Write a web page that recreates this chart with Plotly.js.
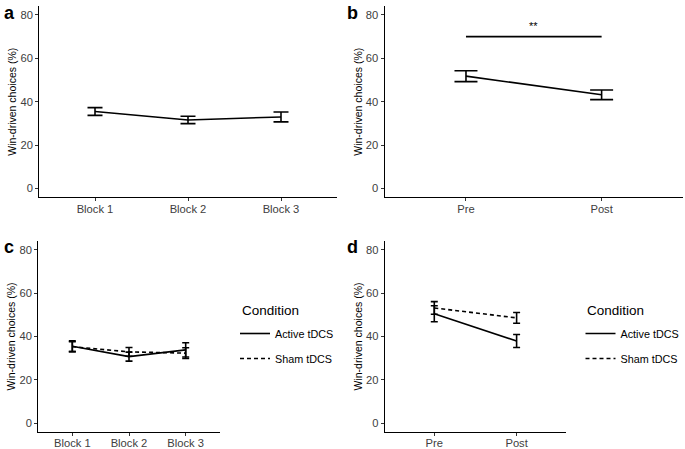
<!DOCTYPE html>
<html>
<head>
<meta charset="utf-8">
<script src="https://cdn.plot.ly/plotly-3.0.1.min.js"></script>
<style>html,body{margin:0;padding:0;background:#fff}#chart{width:685px;height:449px}</style>
</head>
<body>
<div id="chart"></div>
<script>
// ---- data ----
var blocks = ['Block 1', 'Block 2', 'Block 3'];
var sessions = ['Pre', 'Post'];

var aMean = [35.5, 31.6, 33.0];
var aSE   = [1.8, 1.7, 2.3];

var bMean = [51.8, 43.2];
var bSE   = [2.5, 2.2];

var conditions = ['Active tDCS', 'Sham tDCS'];
var cActiveMean = [35.5, 30.7, 33.8];
var cActiveSE   = [2.5, 2.1, 3.3];
var cShamMean   = [35.3, 32.9, 32.3];
var cShamSE     = [2.3, 2.0, 2.5];

var dActiveMean = [50.5, 37.9];
var dActiveSE   = [3.7, 3.0];
var dShamMean   = [53.2, 48.6];
var dShamSE     = [2.9, 2.5];

var sigLevel = 70;
var sigLabel = '**';
var sigLabelLevel = 75;

var yTitle = 'Win-driven choices (%)';
var yTicks = [0, 20, 40, 60, 80];
var panelLetters = ['a', 'b', 'c', 'd'];
var legendTitle = 'Condition';

// ---- style ----
var FONT = 'Liberation Sans, Arial, sans-serif';
var W = 685, H = 449;
function px(x) { return x / W; }
function py(y) { return 1 - y / H; }

function errBar(se, w) {
  return {type: 'data', array: se, visible: true, color: '#000', thickness: 1.6, width: w};
}

var traces = [
  {x: blocks, y: aMean, xaxis: 'x', yaxis: 'y', type: 'scatter', mode: 'lines',
   line: {color: '#000', width: 1.6}, error_y: errBar(aSE, 7.5), showlegend: false},
  {x: sessions, y: bMean, xaxis: 'x2', yaxis: 'y2', type: 'scatter', mode: 'lines',
   line: {color: '#000', width: 1.6}, error_y: errBar(bSE, 11.5), showlegend: false},
  {x: blocks, y: cActiveMean, name: conditions[0], xaxis: 'x3', yaxis: 'y3', type: 'scatter', mode: 'lines',
   line: {color: '#000', width: 1.6}, error_y: errBar(cActiveSE, 3.5), legend: 'legend', legendgroup: 'c1'},
  {x: blocks, y: cShamMean, name: conditions[1], xaxis: 'x3', yaxis: 'y3', type: 'scatter', mode: 'lines',
   line: {color: '#000', width: 1.6, dash: '4px,3px'}, error_y: errBar(cShamSE, 3.5), legend: 'legend', legendgroup: 'c2'},
  {x: sessions, y: dActiveMean, name: conditions[0], xaxis: 'x4', yaxis: 'y4', type: 'scatter', mode: 'lines',
   line: {color: '#000', width: 1.6}, error_y: errBar(dActiveSE, 3.5), legend: 'legend2', legendgroup: 'd1'},
  {x: sessions, y: dShamMean, name: conditions[1], xaxis: 'x4', yaxis: 'y4', type: 'scatter', mode: 'lines',
   line: {color: '#000', width: 1.6, dash: '4px,3px'}, error_y: errBar(dShamSE, 3.5), legend: 'legend2', legendgroup: 'd2'}
];

function xAxis(domain, n, anchor) {
  return {domain: domain, anchor: anchor, type: 'category', range: [-0.6, n - 0.4],
    showline: true, linecolor: '#000', linewidth: 1.1, ticks: 'outside', ticklen: 3,
    tickcolor: '#333', tickwidth: 1, showgrid: false, zeroline: false, fixedrange: true,
    ticklabelstandoff: -2,
    tickfont: {family: FONT, size: 11.2, color: '#404040'}};
}
function yAxis(domain, anchor) {
  return {domain: domain, anchor: anchor, range: [-4, 84], tickvals: yTicks,
    showline: true, linecolor: '#000', linewidth: 1.1, ticks: 'outside', ticklen: 3,
    tickcolor: '#333', tickwidth: 1, showgrid: false, zeroline: false, fixedrange: true,
    tickfont: {family: FONT, size: 11.2, color: '#404040'},
    title: {text: yTitle, font: {family: FONT, size: 10.5, color: '#000'}, standoff: 1}};
}

var topY = [py(197.2), py(6.3)];
var botY = [py(431.7), py(241.3)];

function makeLegend(x) {
  return {
    x: px(x), y: py(319), xanchor: 'left', yanchor: 'top',
    font: {family: FONT, size: 10.8, color: '#000'},
    bgcolor: 'rgba(0,0,0,0)', traceorder: 'grouped', tracegroupgap: 6, itemwidth: 30
  };
}
function legendTitleAnn(x) {
  return {xref: 'paper', yref: 'paper', x: px(x), y: py(310), xanchor: 'left', yanchor: 'middle',
    text: legendTitle, showarrow: false, font: {family: FONT, size: 13.5, color: '#000'}};
}

var layout = {
  width: W, height: H,
  margin: {l: 0, r: 0, t: 0, b: 0},
  paper_bgcolor: '#fff', plot_bgcolor: '#fff',
  font: {family: FONT},
  xaxis: xAxis([px(39.2), px(336.8)], 3, 'y'),
  yaxis: yAxis(topY, 'x'),
  xaxis2: xAxis([px(384.6), px(683)], 2, 'y2'),
  yaxis2: yAxis(topY, 'x2'),
  xaxis3: xAxis([px(38.3), px(219.7)], 3, 'y3'),
  yaxis3: yAxis(botY, 'x3'),
  xaxis4: xAxis([px(384.9), px(566)], 2, 'y4'),
  yaxis4: yAxis(botY, 'x4'),
  legend: makeLegend(235),
  legend2: makeLegend(580.5),
  shapes: [
    {type: 'line', xref: 'x2', yref: 'y2', x0: sessions[0], x1: sessions[1],
     y0: sigLevel, y1: sigLevel, line: {color: '#000', width: 1.6}}
  ],
  annotations: [
    {xref: 'x2', yref: 'y2', x: 0.5, y: sigLabelLevel, text: sigLabel, showarrow: false,
     font: {family: FONT, size: 11, color: '#000'}},
    legendTitleAnn(239.5),
    legendTitleAnn(584.5),
    {xref: 'paper', yref: 'paper', x: px(2), y: py(1), xanchor: 'left', yanchor: 'top',
     text: '<b>' + panelLetters[0] + '</b>', showarrow: false, font: {family: FONT, size: 18, color: '#000'}},
    {xref: 'paper', yref: 'paper', x: px(345), y: py(1), xanchor: 'left', yanchor: 'top',
     text: '<b>' + panelLetters[1] + '</b>', showarrow: false, font: {family: FONT, size: 18, color: '#000'}},
    {xref: 'paper', yref: 'paper', x: px(2), y: py(235), xanchor: 'left', yanchor: 'top',
     text: '<b>' + panelLetters[2] + '</b>', showarrow: false, font: {family: FONT, size: 18, color: '#000'}},
    {xref: 'paper', yref: 'paper', x: px(345), y: py(235), xanchor: 'left', yanchor: 'top',
     text: '<b>' + panelLetters[3] + '</b>', showarrow: false, font: {family: FONT, size: 18, color: '#000'}}
  ]
};

Plotly.newPlot('chart', traces, layout, {staticPlot: true, displayModeBar: false});
</script>
</body>
</html>
